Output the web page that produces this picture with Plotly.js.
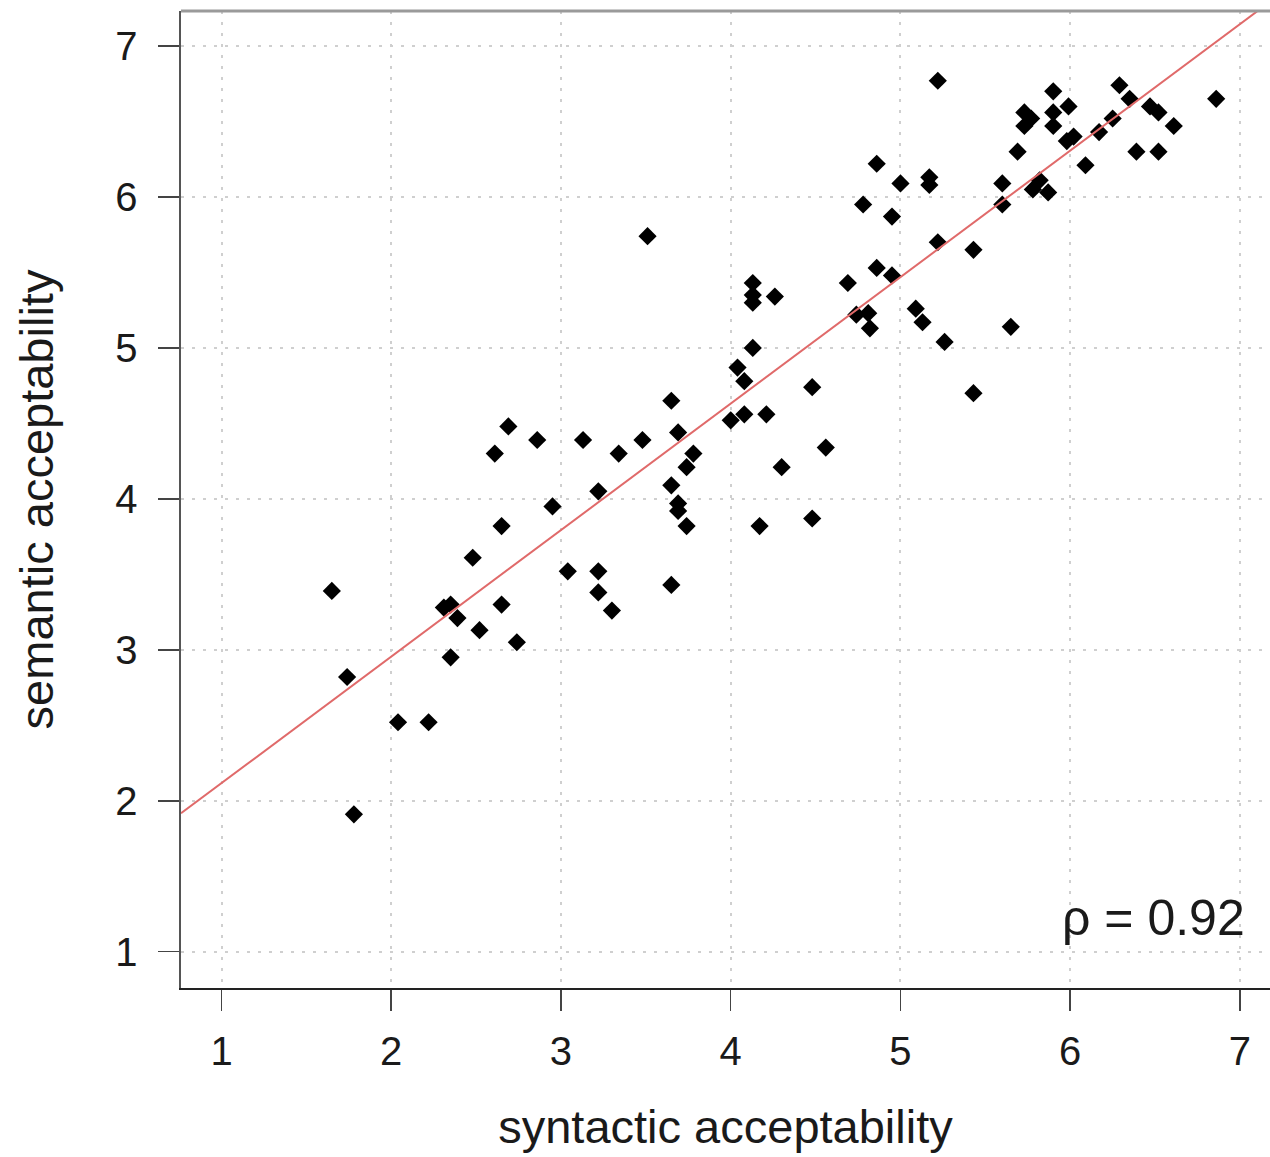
<!DOCTYPE html>
<html>
<head>
<meta charset="utf-8">
<script src="https://cdn.plot.ly/plotly-3.0.1.min.js"></script>
<style>
  html, body { margin: 0; padding: 0; background: #fff; }
  #chart { width: 1270px; height: 1157px; }
</style>
</head>
<body>
<div id="chart"></div>
<script>
// Mean acceptability ratings per item
const syntactic = [
  1.65, 1.74, 1.78, 2.04, 2.22, 2.31, 2.35, 2.39, 2.35, 2.48,
  2.52, 2.61, 2.69, 2.65, 2.65, 2.74, 2.86, 2.95, 3.04, 3.13,
  3.22, 3.22, 3.22, 3.30, 3.34, 3.48, 3.51, 3.65, 3.65, 3.69,
  3.69, 3.74, 3.69, 3.74, 3.78, 3.65, 4.00, 4.04, 4.08, 4.08,
  4.13, 4.13, 4.13, 4.13, 4.26, 4.21, 4.17, 4.30, 4.48, 4.48,
  4.56, 4.69, 4.74, 4.81, 4.82, 4.78, 4.86, 4.86, 4.95, 4.95,
  5.00, 5.09, 5.13, 5.17, 5.17, 5.22, 5.22, 5.26, 5.43, 5.43,
  5.60, 5.60, 5.65, 5.69, 5.73, 5.77, 5.73, 5.90, 5.90, 5.90,
  5.99, 5.98, 6.02, 6.09, 5.78, 5.82, 5.87, 6.17, 6.25, 6.29,
  6.35, 6.47, 6.52, 6.61, 6.39, 6.52, 6.86
];
const semantic = [
  3.39, 2.82, 1.91, 2.52, 2.52, 3.28, 3.30, 3.21, 2.95, 3.61,
  3.13, 4.30, 4.48, 3.82, 3.30, 3.05, 4.39, 3.95, 3.52, 4.39,
  4.05, 3.52, 3.38, 3.26, 4.30, 4.39, 5.74, 4.65, 4.09, 3.97,
  3.92, 3.82, 4.44, 4.21, 4.30, 3.43, 4.52, 4.87, 4.78, 4.56,
  5.00, 5.43, 5.35, 5.30, 5.34, 4.56, 3.82, 4.21, 4.74, 3.87,
  4.34, 5.43, 5.22, 5.23, 5.13, 5.95, 6.22, 5.53, 5.48, 5.87,
  6.09, 5.26, 5.17, 6.13, 6.08, 6.77, 5.70, 5.04, 5.65, 4.70,
  6.09, 5.95, 5.14, 6.30, 6.56, 6.52, 6.47, 6.70, 6.56, 6.47,
  6.60, 6.37, 6.40, 6.21, 6.05, 6.11, 6.03, 6.43, 6.52, 6.74,
  6.65, 6.60, 6.56, 6.47, 6.30, 6.30, 6.65
];

// Least-squares fit line and rank correlation
const fitIntercept = 1.279;
const fitSlope = 0.838;
const rho = 0.92;

const tickValues = [1, 2, 3, 4, 5, 6, 7];
const tickLabels = ['1', '2', '3', '4', '5', '6', '7'];

const xRange = [0.7614, 7.177];
const yRange = [0.7596, 7.232];

const fitX = [xRange[0], xRange[1]];
const fitY = fitX.map(v => fitIntercept + fitSlope * v);

const FONT = 'Liberation Sans, Arial, Helvetica, sans-serif';

const traces = [
  {
    x: syntactic,
    y: semantic,
    type: 'scatter',
    mode: 'markers',
    marker: { symbol: 'diamond', size: 14, color: '#000000' },
    hoverinfo: 'x+y',
    showlegend: false
  },
  {
    x: fitX,
    y: fitY,
    type: 'scatter',
    mode: 'lines',
    line: { color: '#e06a6a', width: 2 },
    hoverinfo: 'skip',
    showlegend: false
  }
];

const gridStyle = {
  showgrid: true,
  gridcolor: '#cfcfcf',
  gridwidth: 2,
  griddash: '3px,8px'
};

const layout = {
  width: 1270,
  height: 1157,
  autosize: false,
  margin: { l: 181, r: 0, t: 11, b: 169, pad: 0 },
  paper_bgcolor: '#ffffff',
  plot_bgcolor: '#ffffff',
  font: { family: FONT, color: '#1a1a1a', size: 40 },
  xaxis: Object.assign({
    range: xRange,
    tickmode: 'array',
    tickvals: tickValues,
    ticktext: tickLabels,
    ticks: 'outside',
    ticklen: 21,
    tickwidth: 1.5,
    tickcolor: '#444444',
    tickfont: { family: FONT, size: 40, color: '#1a1a1a' },
    ticklabelstandoff: 6,
    showline: true,
    linecolor: '#222222',
    linewidth: 1.5,
    zeroline: false,
    title: { text: 'syntactic acceptability', font: { family: FONT, size: 47, color: '#1a1a1a' }, standoff: 38 }
  }, gridStyle),
  yaxis: Object.assign({
    range: yRange,
    tickmode: 'array',
    tickvals: tickValues,
    ticktext: tickLabels,
    ticks: 'outside',
    ticklen: 21,
    tickwidth: 1.5,
    tickcolor: '#444444',
    tickfont: { family: FONT, size: 40, color: '#1a1a1a' },
    ticklabelstandoff: 12,
    showline: true,
    linecolor: '#555555',
    linewidth: 2.5,
    zeroline: false,
    title: { text: 'semantic acceptability', font: { family: FONT, size: 47, color: '#1a1a1a' }, standoff: 47 }
  }, gridStyle),
  shapes: [
    {
      type: 'line', xref: 'paper', yref: 'paper',
      x0: 0, x1: 1, y0: 1, y1: 1,
      line: { color: '#9a9a9a', width: 3 }
    }
  ],
  annotations: [
    {
      xref: 'x', yref: 'y',
      x: 7.04, y: 1.225,
      xanchor: 'right', yanchor: 'middle',
      text: 'ρ = ' + rho.toFixed(2),
      showarrow: false,
      font: { family: FONT, size: 50, color: '#1a1a1a' }
    }
  ]
};

Plotly.newPlot('chart', traces, layout, { displayModeBar: false, staticPlot: true });
</script>
</body>
</html>
